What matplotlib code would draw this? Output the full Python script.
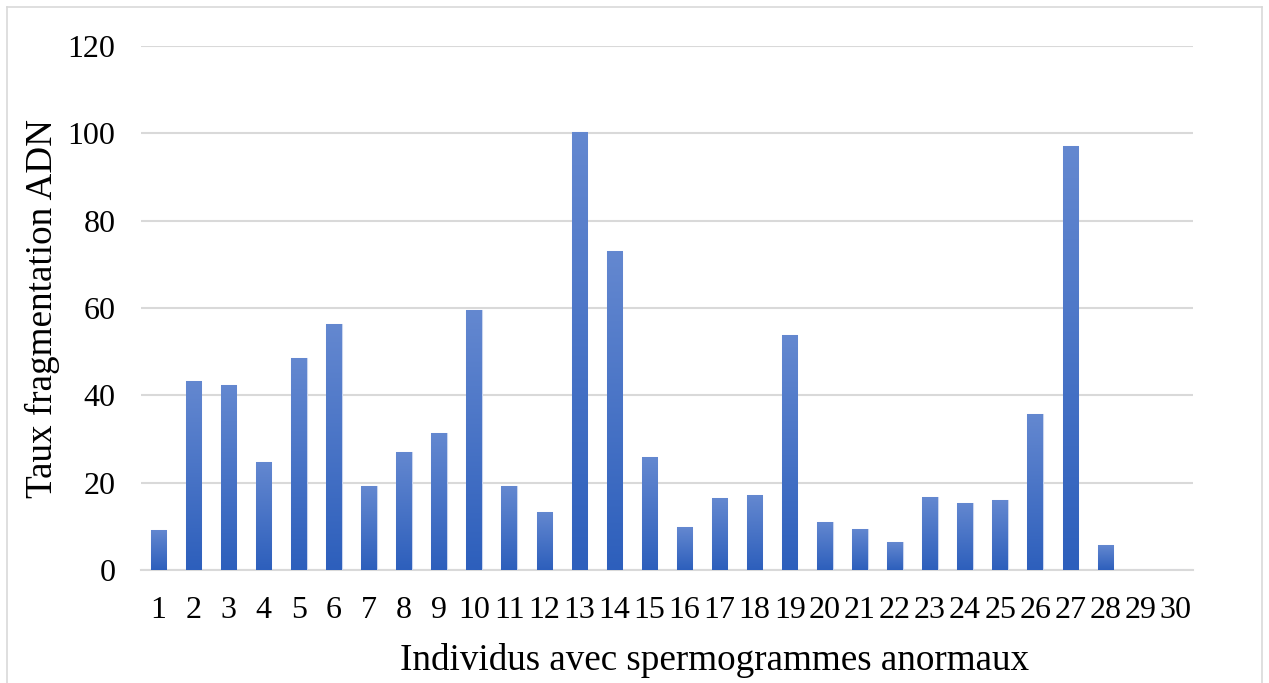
import numpy as np
import matplotlib
matplotlib.use("Agg")
import matplotlib.pyplot as plt
from matplotlib.colors import LinearSegmentedColormap
from matplotlib.lines import Line2D

plt.rcParams['font.family'] = ['Liberation Serif', 'DejaVu Serif']

individus = [str(i) for i in range(1, 31)]
taux = [9.2, 43.3, 42.4, 24.8, 48.5, 56.3, 19.2, 27.1, 31.4, 59.5,
        19.2, 13.3, 100.2, 73.0, 25.8, 9.8, 16.4, 17.1, 53.8, 11.0,
        9.4, 6.4, 16.7, 15.4, 16.0, 35.7, 97.0, 5.7, 0, 0]
yticks = [0, 20, 40, 60, 80, 100, 120]

W, H = 1269, 683
fig = plt.figure(figsize=(W / 100, H / 100), dpi=100)
ax = fig.add_axes([141 / W, (H - 570) / H, (1193 - 141) / W, (570 - 46) / H])

x = np.arange(len(individus))
bars = ax.bar(x, taux, width=0.44, color='#3f6cc6', edgecolor='#c9d5ee',
              linewidth=0.8, zorder=3)

# vertical gradient fill for each bar
cmap = LinearSegmentedColormap.from_list('bleu', ['#2d5fbc', '#6488d0'])
grad = np.linspace(0, 1, 256).reshape(-1, 1)
for b in bars:
    h = b.get_height()
    if h <= 0:
        continue
    bx, bw = b.get_x(), b.get_width()
    im = ax.imshow(grad, cmap=cmap, origin='lower', aspect='auto',
                   extent=[bx, bx + bw, 0, h], zorder=3.5)
    im.set_clip_path(b)

ax.set_xlim(-0.5, len(individus) - 0.5)
ax.set_ylim(0, 120)
ax.set_yticks(yticks)
ax.set_xticks(x)
ax.set_xticklabels(individus)
ax.yaxis.grid(True, color='#d9d9d9', linewidth=1.5, zorder=0)
ax.set_axisbelow(True)
for s in ['top', 'right', 'left']:
    ax.spines[s].set_visible(False)
ax.spines['bottom'].set_color('#d9d9d9')
ax.spines['bottom'].set_linewidth(1.5)
ax.tick_params(axis='both', length=0, labelsize=23, colors='black')
ax.tick_params(axis='y', pad=18.5)
ax.tick_params(axis='x', pad=19)

# axis titles placed in figure pixels
fig.text(400 / W, 1 - 670 / H, 'Individus avec spermogrammes anormaux',
         fontsize=26.7, ha='left', va='baseline')
fig.text(52 / W, 1 - 498 / H, 'Taux fragmentation ADN', fontsize=26.7,
         rotation=90, rotation_mode='anchor', ha='left', va='baseline')

# thin frame around the chart area
for xs, ys in [((7, 7), (7, H)), ((7, 1262), (7, 7)), ((1262, 1262), (7, H))]:
    fig.add_artist(Line2D([v / W for v in xs], [1 - v / H for v in ys],
                          color='#d9d9d9', linewidth=1.2))

fig.savefig('out.png', dpi=100, facecolor='white')
